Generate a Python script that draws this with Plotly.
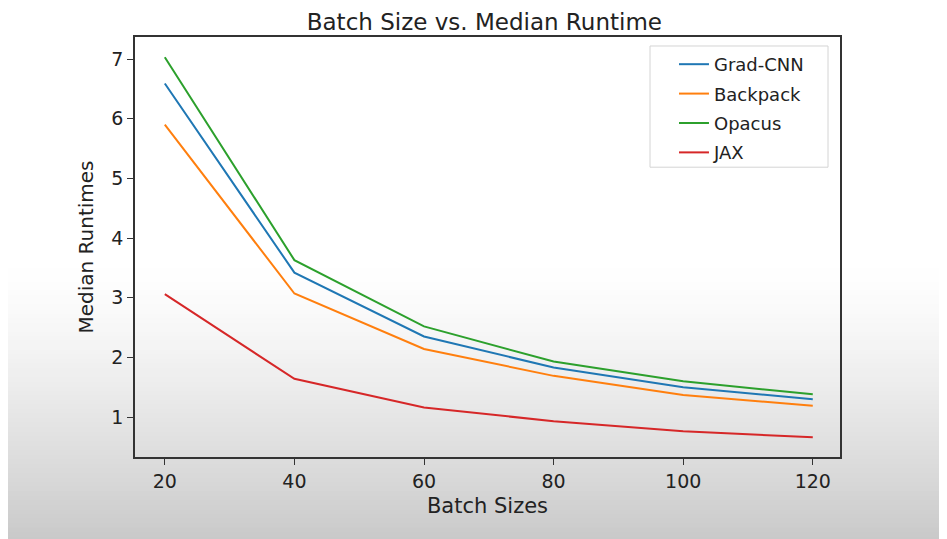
import plotly.graph_objects as go

batch_sizes = [20, 40, 60, 80, 100, 120]
grad_cnn = [6.59, 3.42, 2.35, 1.83, 1.50, 1.30]
backpack = [5.90, 3.07, 2.14, 1.69, 1.37, 1.19]
opacus = [7.03, 3.63, 2.52, 1.93, 1.60, 1.38]
jax = [3.06, 1.64, 1.16, 0.93, 0.76, 0.66]

series = [
    ('Grad-CNN', grad_cnn, '#1f77b4'),
    ('Backpack', backpack, '#ff7f0e'),
    ('Opacus', opacus, '#2ca02c'),
    ('JAX', jax, '#d62728'),
]

fig = go.Figure()
for name, vals, color in series:
    fig.add_trace(go.Scatter(x=batch_sizes, y=vals, mode='lines', name=name,
                             legendgroup=name, line=dict(color=color, width=2)))

# faded grey band at the bottom of the screenshot
shapes = []
steps = 60
top, bottom = 0.45, -0.2
for i in range(steps):
    hi = top - (top - bottom) * i / steps
    lo = top - (top - bottom) * (i + 1) / steps
    t = ((i + 0.5) / steps) ** 1.3
    g = int(255 - 54 * t)
    shapes.append(dict(type='rect', xref='paper', yref='paper', layer='below',
                       x0=-0.2, x1=1.17, y0=lo - 0.002, y1=hi,
                       fillcolor=f'rgb({g},{g},{g})', line=dict(width=0)))

# legend frame
shapes.append(dict(type='rect', xref='paper', yref='paper', layer='above',
                   x0=0.7305, x1=0.983, y0=0.690, y1=0.9786,
                   line=dict(color='#d4d4d4', width=1)))

fig.update_layout(
    width=947, height=539,
    margin=dict(l=127, r=115, t=29, b=90),
    paper_bgcolor='white', plot_bgcolor='rgba(0,0,0,0)',
    font=dict(family='DejaVu Sans', size=19, color='#222'),
    title=dict(text='Batch Size vs. Median Runtime', x=0.503, xanchor='center',
               y=0.975, yanchor='middle', font=dict(size=23, color='#222')),
    shapes=shapes,
    showlegend=True,
    legend=dict(x=0.7645, y=0.9786, xanchor='left', yanchor='top',
                bgcolor='rgba(0,0,0,0)', borderwidth=0,
                tracegroupgap=3, traceorder='grouped', font=dict(size=18, color='#222')),
    xaxis=dict(range=[15.4, 124.2], tickvals=batch_sizes, showgrid=False, zeroline=False,
               showline=True, linecolor='#333', linewidth=1.5, mirror=True,
               ticks='outside', ticklen=6, tickcolor='#333', tickfont=dict(size=19),
               title=dict(text='Batch Sizes', standoff=8, font=dict(size=21))),
    yaxis=dict(range=[0.33, 7.37], tickvals=[1, 2, 3, 4, 5, 6, 7], showgrid=False,
               zeroline=False, showline=True, linecolor='#333', linewidth=1.5, mirror=True,
               ticks='outside', ticklen=6, tickcolor='#333', tickfont=dict(size=19),
               title=dict(text='Median Runtimes', standoff=12, font=dict(size=20))),
)

fig.write_html("out.html")
